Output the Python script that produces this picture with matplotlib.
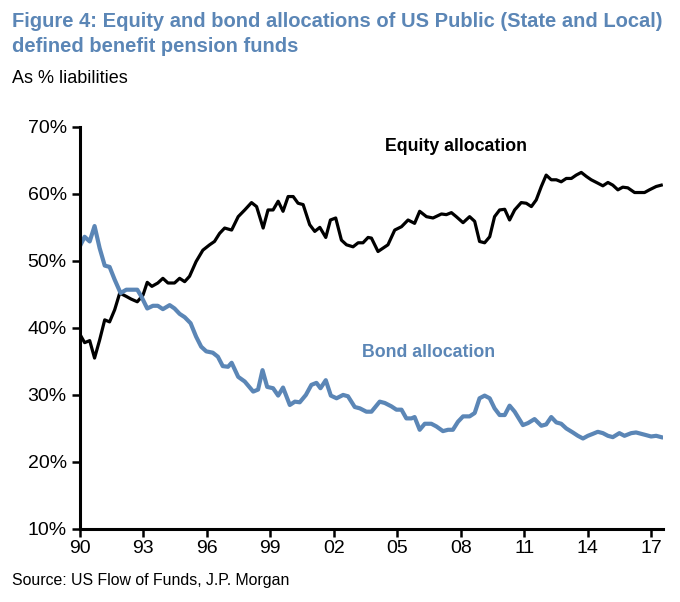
import numpy as np
import matplotlib.pyplot as plt

# values (year offset from 1990, % of liabilities)
eq_year = [0.06, 0.22, 0.46, 0.69, 0.93, 1.17, 1.40, 1.64, 1.88, 2.19, 2.42, 2.71, 2.98,
           3.18, 3.40, 3.68, 3.92, 4.16, 4.47, 4.71, 4.95, 5.18, 5.49, 5.81, 6.13, 6.36,
           6.60, 6.84, 7.17, 7.48, 7.79, 8.11, 8.35, 8.66, 8.89, 9.13, 9.37, 9.60, 9.84,
           10.08, 10.31, 10.55, 10.86, 11.10, 11.34, 11.62, 11.84, 12.09, 12.36, 12.60,
           12.91, 13.15, 13.38, 13.62, 13.78, 14.09, 14.56, 14.88, 15.20, 15.51, 15.82,
           16.06, 16.38, 16.69, 17.09, 17.32, 17.56, 17.79, 18.11, 18.42, 18.66, 18.89,
           19.13, 19.37, 19.60, 19.84, 20.08, 20.31, 20.55, 20.86, 21.10, 21.34, 21.57,
           21.81, 22.04, 22.28, 22.52, 22.75, 22.99, 23.23, 23.46, 23.70, 23.94, 24.17,
           24.48, 24.72, 24.96, 25.19, 25.43, 25.66, 25.90, 26.22, 26.45, 26.69, 26.92,
           27.24, 27.48]
eq_pct = [38.7, 37.8, 38.1, 35.5, 38.2, 41.2, 40.9, 42.7, 45.2, 44.7, 44.3, 43.9, 44.9,
          46.8, 46.2, 46.7, 47.4, 46.7, 46.7, 47.4, 46.9, 47.7, 49.9, 51.6, 52.4, 52.9,
          54.1, 54.9, 54.6, 56.6, 57.6, 58.7, 58.1, 54.9, 57.6, 57.6, 58.9, 57.4, 59.6,
          59.6, 58.6, 58.4, 55.4, 54.4, 55.0, 53.5, 56.1, 56.4, 53.1, 52.4,
          52.1, 52.7, 52.7, 53.5, 53.4, 51.4, 52.4, 54.6, 55.1, 56.1, 55.6,
          57.4, 56.6, 56.4, 57.0, 56.9, 57.2, 56.6, 55.7, 56.6, 55.9, 52.9,
          52.7, 53.6, 56.6, 57.6, 57.7, 56.1, 57.6, 58.7, 58.6, 58.1, 59.1,
          61.1, 62.8, 62.1, 62.1, 61.8, 62.3, 62.3, 62.8, 63.2, 62.6, 62.1,
          61.6, 61.2, 61.7, 61.3, 60.6, 61.0, 60.9, 60.2, 60.2, 60.2, 60.6,
          61.1, 61.3]

bond_year = [0.03, 0.22, 0.46, 0.69, 0.93, 1.17, 1.40, 1.64, 1.92, 2.19, 2.42, 2.71, 2.90,
             3.18, 3.45, 3.68, 3.92, 4.24, 4.47, 4.71, 4.95, 5.23, 5.49, 5.73, 5.97, 6.28,
             6.52, 6.75, 7.00, 7.17, 7.48, 7.79, 8.19, 8.42, 8.63, 8.85, 9.13, 9.37, 9.60,
             9.92, 10.16, 10.39, 10.68, 10.94, 11.18, 11.37, 11.62, 11.86, 12.13, 12.44,
             12.67, 12.99, 13.23, 13.54, 13.78, 14.17, 14.41, 14.72, 14.96, 15.20, 15.43,
             15.67, 15.82, 16.06, 16.30, 16.61, 16.85, 17.16, 17.40, 17.63, 17.87, 18.11,
             18.42, 18.66, 18.89, 19.13, 19.37, 19.60, 19.84, 20.08, 20.31, 20.55, 20.94,
             21.18, 21.49, 21.81, 22.04, 22.28, 22.52, 22.75, 22.99, 23.30, 23.54, 23.78,
             24.01, 24.25, 24.48, 24.72, 24.96, 25.19, 25.50, 25.74, 26.06, 26.29, 26.53,
             26.77, 27.00, 27.24, 27.48]
bond_pct = [52.4, 53.6, 52.9, 55.2, 51.9, 49.3, 49.1, 47.2, 45.2, 45.7, 45.7, 45.7, 44.7,
            42.9, 43.3, 43.3, 42.8, 43.4, 42.9, 42.1, 41.6, 40.7, 38.7, 37.2, 36.5, 36.3,
            35.7, 34.3, 34.2, 34.8, 32.7, 32.0, 30.5, 30.8, 33.7, 31.2, 31.0, 29.9, 31.1,
            28.5, 29.0, 28.9, 30.0, 31.5, 31.8, 31.0, 32.2, 29.9, 29.5, 30.0,
            29.8, 28.2, 28.0, 27.5, 27.5, 29.0, 28.8, 28.3, 27.8, 27.8, 26.5,
            26.5, 26.7, 24.8, 25.7, 25.7, 25.3, 24.6, 24.8, 24.8, 26.0, 26.8,
            26.8, 27.3, 29.5, 29.9, 29.5, 28.0, 27.0, 27.0, 28.4, 27.5, 25.5,
            25.8, 26.4, 25.4, 25.6, 26.7, 25.9, 25.7, 25.0, 24.4, 23.9, 23.5,
            23.9, 24.2, 24.5, 24.3, 23.9, 23.7, 24.3, 23.9, 24.3, 24.4, 24.2,
            24.0, 23.8, 23.9, 23.7]

xtick_years = [0, 3, 6, 9, 12, 15, 18, 21, 24, 27]
xtick_labels = ['90', '93', '96', '99', '02', '05', '08', '11', '14', '17']
yticks = [10, 20, 30, 40, 50, 60, 70]

blue = '#5b86b6'
plt.rcParams['font.family'] = ['Liberation Sans', 'DejaVu Sans']

fig = plt.figure(figsize=(6.8, 6.02), dpi=100)
ax = fig.add_axes([0.1176, 0.1213, 0.857, 0.668])

ax.plot(np.array(eq_year), eq_pct, color='black', lw=2.3, solid_joinstyle='round')
ax.plot(np.array(bond_year), bond_pct, color=blue, lw=3.0, solid_joinstyle='round')

ax.set_xlim(0, 27.55)
ax.set_ylim(10, 70)
ax.set_xticks(xtick_years)
ax.set_xticklabels(xtick_labels)
ax.set_yticks(yticks)
ax.set_yticklabels([f'{v}%' for v in yticks])
ax.tick_params(axis='both', labelsize=14, width=1.8, length=6, direction='out', colors='black')
ax.tick_params(axis='x', pad=2)
for s in ['top', 'right']:
    ax.spines[s].set_visible(False)
for s in ['left', 'bottom']:
    ax.spines[s].set_linewidth(2.2)

ax.text(17.76, 67.0, 'Equity allocation', fontsize=12.8, fontweight='bold', ha='center', va='center')
ax.text(16.49, 36.3, 'Bond allocation', fontsize=12.8, fontweight='bold', color=blue, ha='center', va='center')

fig.text(0.018, 0.9635, 'Figure 4: Equity and bond allocations of US Public (State and Local)',
         fontsize=14.5, fontweight='bold', color=blue, ha='left', va='center')
fig.text(0.018, 0.922, 'defined benefit pension funds',
         fontsize=14.5, fontweight='bold', color=blue, ha='left', va='center')
fig.text(0.018, 0.870, 'As % liabilities', fontsize=13, ha='left', va='center')
fig.text(0.018, 0.036, 'Source: US Flow of Funds, J.P. Morgan', fontsize=11.4, ha='left', va='center')

fig.savefig('out.png', dpi=100)
